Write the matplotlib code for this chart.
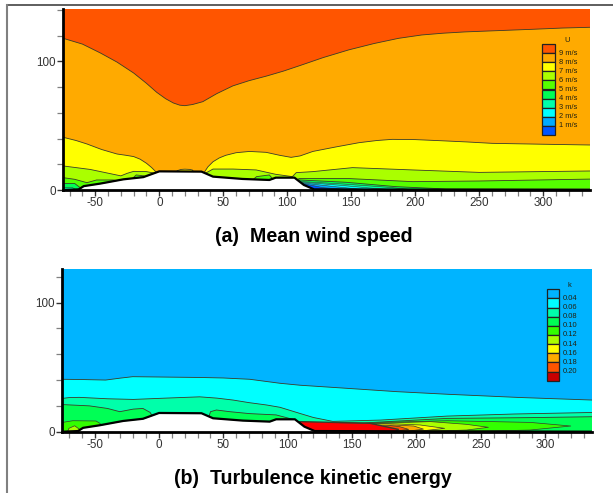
"""Mean wind speed and turbulence kinetic energy contours over an embankment."""

import matplotlib

matplotlib.use("Agg")
import matplotlib.pyplot as plt
from matplotlib.lines import Line2D
from matplotlib.patches import Rectangle
from matplotlib.ticker import MultipleLocator

W, H = 613, 493
LINE = "#3a3a2a"
TICK = "#333333"

TERRAIN_X = [-75, -63, -59, -46, -28, -12.5, 0, 33, 42, 65, 86, 91, 105.6, 113, 121, 340]
TERRAIN_Y = [0, 0.5, 3, 5, 8.3, 10, 14.5, 14.3, 10.4, 8.6, 7.8, 9.6, 9.6, 3.9, 0.5, 0]

# mean wind speed, contour lines
U_COLORS = ["#ff5500", "#ffaa00", "#ffff00", "#aaff00", "#55ff00",
            "#00ff55", "#00ffaa", "#00ffff", "#00aaff", "#0055ff"]
U_LABELS = ["9 m/s", "8 m/s", "7 m/s", "6 m/s", "5 m/s", "4 m/s", "3 m/s", "2 m/s", "1 m/s"]

U8_X = [-75, -60, -46, -33, -20, -10, -2, 5, 11, 16, 20, 26, 34, 45, 57.5, 70, 84, 97, 109.6, 128, 148, 168,
        187, 205, 222, 239, 265, 291, 315, 337]
U8_Y = [118, 113.5, 106.6, 99.5, 91, 83, 76, 71, 67.7, 66, 65.6, 66.5, 68.7, 75, 81, 85, 88.7, 92.5, 96.7, 103,
        109, 114, 118, 120.6, 122, 123, 124, 125, 126, 126.6]

U7_X = [-75, -65, -56.5, -45, -33, -26, -20, -15, -10, -6, -2, 1, 11, 14, 17, 20, 24, 26, 29, 33, 35, 38, 42, 47,
        52, 60, 70.5, 83.5, 94, 103, 110, 120, 138, 156, 170, 182, 200, 218.5, 240, 260, 300, 337]
U7_Y = [41, 38.5, 35.8, 31.5, 28, 27, 26, 24, 20.8, 17.5, 13.5, 10, 10, 15, 16, 16.2, 16, 15.5, 10, 10, 13.5, 18, 22, 25,
        27, 29, 30, 29.3, 27, 25.4, 26.5, 30, 33.5, 36.8, 38.5, 39.4, 39.2, 38.4, 37.4, 36.3, 35.6, 35]

U6_X = [-75, -54, -30, -25, -20, -10, -3.4, 0, 33, 36, 42, 57.6, 75.7, 91, 104, 107, 120, 151, 198, 250, 337]
U6_Y = [18.7, 16, 11, 13, 14.5, 14.3, 13, 8, 8, 13, 16.3, 16.3, 15.6, 12.2, 10.4, 13.5, 14.3, 17.4, 15.6, 13.7, 14.8]

U5_PIECES = [
    ([-75, -66, -56.5, -49, -36, -25], [9.6, 8.3, 5.7, 7.8, 7.8, 6]),
    ([-22, -18, -12, -8], [8, 11.7, 11, 8]),
    ([72, 76, 86, 90], [7, 10.4, 11.7, 7]),
    ([105, 109.6, 146, 198, 250, 337], [7, 9, 9, 6.5, 7, 8.5]),
]
U4_PIECES = [
    ([-75, -66, -62], [5, 5, 2]),
    ([105, 109.6, 146, 185, 224, 337], [7, 7.8, 6, 2.6, 0.8, 0.8]),
]
U3_PIECES = [
    ([-75, -68, -65.6], [2, 2, 0.5]),
    ([108, 112, 146, 180, 200], [6.5, 6.5, 4.5, 2, 0]),
]
U2_X = [108, 112, 140, 165, 185]
U2_Y = [6, 6, 3.8, 1.5, 0]
U1_X = [108, 112, 135, 155, 170]
U1_Y = [5.5, 5.5, 2.8, 0.8, 0]
U0_X = [108, 112, 128, 145, 152]
U0_Y = [5, 5, 1.8, 0.5, 0]

# turbulence kinetic energy
K_COLORS = ["#00b4ff", "#00ffff", "#00ffaa", "#00ff55", "#33ff00",
            "#aaff00", "#ffff00", "#ffaa00", "#ff5500", "#c80000"]
K_LABELS = ["0.04", "0.06", "0.08", "0.10", "0.12", "0.14", "0.16", "0.18", "0.20"]
K_RED = "#ff0000"

K1_X = [-75, -60, -41.5, -30, -20.5, 5, 31.6, 50, 70.5, 94, 109.5, 146, 185, 224, 280, 337]
K1_Y = [40.6, 40.4, 40, 41.5, 42.6, 42.3, 42, 41.6, 40.6, 37.5, 36, 33.6, 31, 29, 26.5, 24.5]

K2_X = [-75, -70, -62, -40, -20, 5, 31.6, 45, 57.6, 70, 83.5, 94, 110, 120, 135, 172, 224, 276, 337]
K2_Y = [25.8, 26.4, 26.6, 25.5, 25, 26, 27, 26, 24.5, 22.5, 20.7, 18.9, 14, 11, 8, 9, 12.1, 13.7, 14.9]

K3_PIECES = [
    ([-75, -54, -40, -30.5, -20, -12.5, -7, -3], [21, 20, 18, 15.5, 17.5, 18, 15, 9]),
    ([38, 40, 44.6, 55, 70.5, 91, 104, 108], [9, 15.5, 16.8, 15.5, 14, 13, 9.6, 6]),
    ([140, 159, 224, 288.5, 337], [7, 6.8, 10.3, 10.9, 11.6]),
]
K4_PIECES = [
    ([-75, -67, -49, -46, -44], [7.2, 8.5, 8.3, 6.5, 4]),
    ([164, 172, 224, 288.5, 320, 288.5, 250, 190], [6.5, 7.2, 8.5, 7.2, 4.4, 1.3, 0.4, 0.2]),
]
K5_PIECES = [
    ([-71, -70, -65.6, -62], [0, 2.6, 4.6, 2]),
    ([164, 172, 211, 239, 256, 239, 218, 190], [6.4, 6.5, 7.8, 5.7, 3.4, 1.3, 0.6, 0.2]),
]
K6_X = [166, 177, 203, 222, 205, 190]
K6_Y = [6, 6.3, 5.2, 2.6, 0.7, 0.3]
K7_X = [170, 182, 198, 205.5, 195, 185]
K7_Y = [5.2, 5.2, 4.4, 2, 0.6, 0.3]
K8_X = [174, 180, 187, 194, 185]
K8_Y = [4.4, 4.7, 3.9, 1.8, 0.6]
K9_X = [105, 109.6, 164, 186, 183.5]
K9_Y = [6, 7.8, 6.5, 1.8, 0]


def add_ax(fig, left, top, right, bottom):
    return fig.add_axes([left / W, 1 - bottom / H, (right - left) / W, (bottom - top) / H])


def level(ax, x, y, color, lw=0.6):
    ax.fill(list(x) + [x[-1], x[0]], list(y) + [0, 0], color=color, lw=0)
    ax.plot(x, y, color=LINE, lw=lw, solid_capstyle="butt")


def style_axes(ax, xlim, ylim):
    ax.set_xlim(*xlim)
    ax.set_ylim(*ylim)
    ax.fill_between(TERRAIN_X, 0, TERRAIN_Y, color="white", lw=0, zorder=5)
    ax.plot(TERRAIN_X, TERRAIN_Y, color="black", lw=1.6, zorder=6)
    for side in ["top", "right"]:
        ax.spines[side].set_visible(False)
    for side in ["left", "bottom"]:
        ax.spines[side].set_linewidth(2.0)
        ax.spines[side].set_zorder(7)
    ax.xaxis.set_major_locator(MultipleLocator(50))
    ax.xaxis.set_minor_locator(MultipleLocator(10))
    ax.yaxis.set_major_locator(MultipleLocator(100))
    ax.yaxis.set_minor_locator(MultipleLocator(20))
    ax.tick_params(which="major", length=4.5, width=1.0, color=TICK, labelcolor=TICK, labelsize=8.4, pad=0.5)
    ax.tick_params(which="minor", length=4.5, width=0.9, color="#808080")
    ax.set_axisbelow(False)


def legend(fig, left, top, right, bottom, colors, labels, header, label_x, header_x):
    ax = add_ax(fig, left, top, right, bottom)
    n = len(colors)
    ax.set_xlim(0, 1)
    ax.set_ylim(n, 0)
    ax.axis("off")
    for i, color in enumerate(colors):
        ax.add_patch(Rectangle((0, i), 1, 1, fc=color, ec="#222222", lw=0.9, clip_on=False))
    trans = ax.get_yaxis_transform()
    for i, label in enumerate(labels):
        ax.text((label_x - left) / (right - left), i + 1, label, transform=trans, fontsize=5.4,
                color="#222211", va="center", ha="left")
    ax.text((header_x - left) / (right - left), -0.05, header, transform=trans, fontsize=5.4,
            color="#222211", va="bottom", ha="center")


def main():
    plt.rcParams["font.family"] = "Liberation Sans"
    plt.rcParams["axes.unicode_minus"] = False
    fig = plt.figure(figsize=(W / 100, H / 100), dpi=100, facecolor="white")

    # outer frame of the page
    fig.add_artist(Line2D([7 / W, 1], [1 - 4.5 / H] * 2, color="#333333", lw=1.1))
    fig.add_artist(Line2D([7 / W, 7 / W], [0, 1 - 4.5 / H], color="#808080", lw=1.5))

    top = add_ax(fig, 63, 8.5, 590, 190)
    top.set_facecolor(U_COLORS[0])
    level(top, U8_X, U8_Y, U_COLORS[1])
    level(top, U7_X, U7_Y, U_COLORS[2])
    level(top, U6_X, U6_Y, U_COLORS[3])
    for x, y in U5_PIECES:
        level(top, x, y, U_COLORS[4])
    for x, y in U4_PIECES:
        level(top, x, y, U_COLORS[5])
    for x, y in U3_PIECES:
        level(top, x, y, U_COLORS[6], lw=0.4)
    level(top, U2_X, U2_Y, U_COLORS[7], lw=0.4)
    level(top, U1_X, U1_Y, U_COLORS[8], lw=0.4)
    level(top, U0_X, U0_Y, U_COLORS[9], lw=0.4)
    style_axes(top, (-75.2, 336.5), (0, 141.2))

    bot = add_ax(fig, 62, 269, 592, 431.7)
    bot.set_facecolor(K_COLORS[0])
    level(bot, K1_X, K1_Y, K_COLORS[1])
    level(bot, K2_X, K2_Y, K_COLORS[2])
    for x, y in K3_PIECES:
        level(bot, x, y, K_COLORS[3])
    for x, y in K4_PIECES:
        level(bot, x, y, K_COLORS[4], lw=0.5)
    for x, y in K5_PIECES:
        level(bot, x, y, K_COLORS[5], lw=0.5)
    level(bot, K6_X, K6_Y, K_COLORS[6], lw=0.5)
    level(bot, K7_X, K7_Y, K_COLORS[7], lw=0.5)
    level(bot, K8_X, K8_Y, K_COLORS[8], lw=0.5)
    level(bot, K9_X, K9_Y, K_RED, lw=1.0)
    style_axes(bot, (-75.4, 336.5), (0, 126))

    legend(fig, 542, 44, 554.7, 135, U_COLORS, U_LABELS, "U", 559, 567)
    legend(fig, 546.7, 289.3, 559.3, 380.7, K_COLORS, K_LABELS, "k", 563, 569)

    fig.text(313.5 / W, 1 - 237 / H, "(a)  Mean wind speed", weight="bold",
             fontsize=14.1, ha="center", va="center", color="black")
    fig.text(313 / W, 1 - 478 / H, "(b)  Turbulence kinetic energy", weight="bold",
             fontsize=14.1, ha="center", va="center", color="black")

    fig.savefig("out.png", dpi=100, facecolor="white")


if __name__ == "__main__":
    main()
